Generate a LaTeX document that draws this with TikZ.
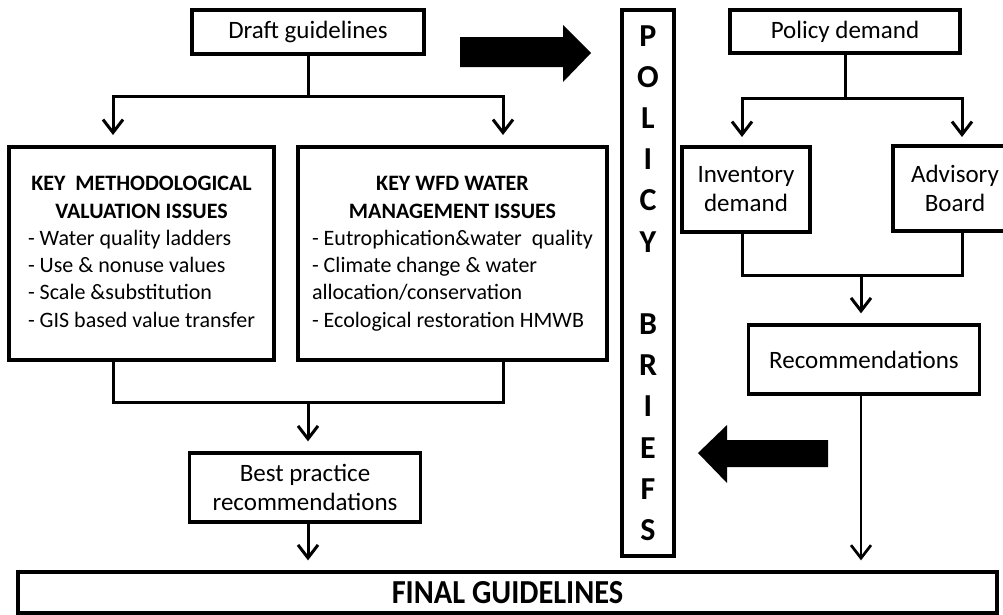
\documentclass[tikz,border=0pt]{standalone}
\usepackage{fontspec}
\setmainfont{Carlito}
\usetikzlibrary{arrows.meta}
\begin{document}
\begin{tikzpicture}[x=1pt,y=-1pt]
\tikzset{
  box/.style={draw, line width=3.3pt, inner sep=0pt, align=center, font=\fontsize{25}{29}\selectfont},
  bigbox/.style={box, font=\fontsize{22}{27.3}\selectfont},
  conn/.style={line width=3pt},
  arr/.style={conn, -{Straight Barb[length=13pt,width=20pt]}},
  blockarrow/.style={fill=black},
}
\useasboundingbox (0,0) rectangle (1003,614);

\node[box, minimum width=232pt, minimum height=44pt] (draft) at (308,32) {Draft guidelines};
\node[bigbox, minimum width=265pt, minimum height=213pt] (keym) at (141.5,253.5) {\begin{tabular}{@{}l@{}}\multicolumn{1}{@{}c@{}}{\bfseries KEY\ \ METHODOLOGICAL}\\\multicolumn{1}{@{}c@{}}{\bfseries VALUATION ISSUES}\\- Water quality ladders\\- Use \& nonuse values\\- Scale \&substitution\\- GIS based value transfer\end{tabular}};
\node[bigbox, minimum width=309pt, minimum height=213pt] (wfd) at (452.5,253.5) {\begin{tabular}{@{}l@{}}\multicolumn{1}{@{}c@{}}{\bfseries KEY WFD WATER}\\\multicolumn{1}{@{}c@{}}{\bfseries MANAGEMENT ISSUES}\\- Eutrophication\&water\ \ quality\\- Climate change \& water\\allocation/conservation\\- Ecological restoration HMWB\end{tabular}};
\node[box, minimum width=231pt, minimum height=69pt] (best) at (305,487.5) {Best practice\\recommendations};
\node[box, minimum width=979pt, minimum height=41pt, font=\bfseries\fontsize{32}{36}\selectfont] (final) at (507.5,592.5) {\scalebox{0.95}[1.05]{FINAL GUIDELINES}};
\node[box, minimum width=52pt, minimum height=546pt, font=\bfseries\fontsize{32}{41.2}\selectfont] (pb) at (648,283) {P\\O\\L\\I\\C\\Y\\[41.2pt]B\\R\\I\\E\\F\\S};
\node[box, minimum width=230pt, minimum height=43pt] (pd) at (845,31.5) {Policy demand};
\node[box, minimum width=128pt, minimum height=85pt] (inv) at (746,189.5) {Inventory\\demand};
\node[box, minimum width=124pt, minimum height=85pt] (adv) at (955,188.5) {Advisory\\Board};
\node[box, minimum width=231pt, minimum height=69pt] (rec) at (864,359.5) {Recommendations};

\coordinate (kin) at (113,135);
\coordinate (win) at (503,135);
\coordinate (lj) at (308,402);
\coordinate (invin) at (742,137);
\coordinate (advin) at (962,137);
\coordinate (rj) at (861,275);

\draw[arr] (draft.south) -- ++(0,41) -| (kin);
\draw[arr] (draft.south) -- ++(0,41) -| (win);
\draw[conn] (keym.south -| kin) |- (lj) -| (wfd.south -| win);
\draw[arr] (lj) -- ([yshift=10pt]best.north -| lj);
\draw[arr] (best.south -| lj) -- ([yshift=10pt]final.north -| lj);

\draw[arr] (pd.south) -- ++(0,44) -| (invin);
\draw[arr] (pd.south) -- ++(0,44) -| (advin);
\draw[conn] (inv.south -| invin) |- (rj) -| (adv.south -| advin);
\draw[arr] (rj) -- ([yshift=10pt]rec.north -| rj);
\draw[arr, line width=2.7pt] (rec.south -| rj) -- ([yshift=10pt]final.north -| rj);

\fill[blockarrow] (460,37) -- (563,37) -- (563,25) -- (591,53) -- (563,82) -- (563,67) -- (460,67) -- cycle;
\fill[blockarrow] (828,440) -- (727,440) -- (727,425) -- (698,453) -- (727,483) -- (727,467) -- (828,467) -- cycle;
\end{tikzpicture}
\end{document}
